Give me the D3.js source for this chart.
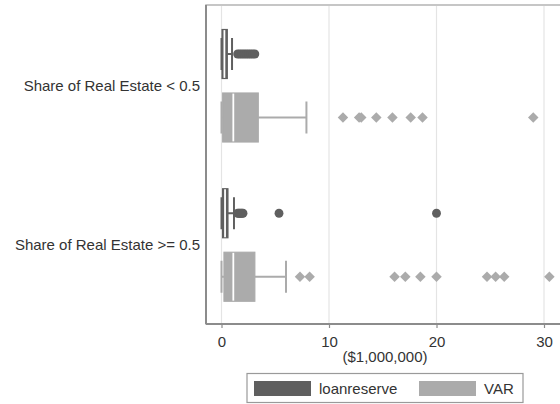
<!DOCTYPE html>
<html>
<head>
<meta charset="utf-8">
<script src="https://cdn.jsdelivr.net/npm/d3@7/dist/d3.min.js"></script>
<style>
  html, body { margin: 0; padding: 0; background: #fff; }
  svg { display: block; font-family: "Liberation Sans", Arial, sans-serif; }
</style>
</head>
<body>
<svg id="chart" width="560" height="404"></svg>
<script>
// Groups on the vertical axis and the two boxed variables
const groups = ["Share of Real Estate < 0.5", "Share of Real Estate >= 0.5"];
const seriesNames = ["loanreserve", "VAR"];

// Box summaries per group: [lower whisker, Q1, median, Q3, upper whisker] ($1,000,000)
const loanreserveBox = [
  [0, 0.05, 0.27, 0.54, 0.98],
  [0, 0.10, 0.33, 0.60, 1.16]
];
const varBox = [
  [0, 0.11, 1.10, 3.42, 7.90],
  [0, 0.23, 1.10, 3.10, 6.00]
];

// Outside values per group
const loanreserveOutliers = [
  [1.5, 1.7, 1.9, 2.1, 2.3, 2.5, 2.7, 2.9, 3.1],
  [1.5, 1.6, 1.7, 1.8, 1.9, 2.0, 5.35, 20.0]
];
const varOutliers = [
  [11.3, 12.8, 13.0, 14.4, 15.9, 17.6, 18.7, 29.0],
  [7.3, 8.2, 16.1, 17.1, 18.5, 20.0, 24.7, 25.5, 26.3, 30.5]
];

const xTicks = [0, 10, 20, 30];
const axisTitle = "($1,000,000)";

const colors = { loanreserve: "#5f5f5f", VAR: "#ababab" };

const svg = d3.select("#chart");
const plot = { left: 206, top: 5, bottom: 324, right: 575 };

const x = d3.scaleLinear().domain([0, 30]).range([221.5, 544]);
const yGroup = d3.scalePoint().domain(groups).range([85.75, 245]);
const ySeries = d3.scalePoint().domain(seriesNames).range([-31.75, 31.75]);
const boxH = 49, capH = 32;

// Plot region frame
svg.append("rect")
  .attr("x", plot.left).attr("y", plot.top)
  .attr("width", plot.right - plot.left).attr("height", plot.bottom - plot.top)
  .attr("fill", "#fff").attr("stroke", "#b4b4b4").attr("stroke-width", 1.5);

// Vertical gridlines
svg.append("g").selectAll("line").data(xTicks).join("line")
  .attr("x1", d => x(d)).attr("x2", d => x(d))
  .attr("y1", plot.top + 1).attr("y2", plot.bottom)
  .attr("stroke", "#e4e4e4").attr("stroke-width", 1.2);

// Left axis line
svg.append("line")
  .attr("x1", plot.left).attr("x2", plot.left)
  .attr("y1", plot.top).attr("y2", plot.bottom)
  .attr("stroke", "#8c8c8c").attr("stroke-width", 2);

// Bottom axis
const xAxis = d3.axisBottom(x).tickValues(xTicks).tickSize(4).tickPadding(8);
const gx = svg.append("g").attr("transform", `translate(0,${plot.bottom})`).call(xAxis);
gx.select(".domain").attr("d", `M${plot.left},0H${plot.right}`)
  .attr("stroke", "#8c8c8c").attr("stroke-width", 2);
gx.selectAll(".tick line").attr("stroke", "#8c8c8c").attr("stroke-width", 1.2);
gx.selectAll(".tick text").attr("font-size", 15).attr("fill", "#333")
  .attr("font-family", "Liberation Sans, Arial, sans-serif");

svg.append("text")
  .attr("x", 385).attr("y", 362)
  .attr("text-anchor", "middle").attr("font-size", 15).attr("fill", "#333")
  .text(axisTitle);

// Group labels
svg.append("g").selectAll("text").data(groups).join("text")
  .attr("x", 200).attr("y", d => yGroup(d))
  .attr("dy", "0.35em")
  .attr("text-anchor", "end").attr("font-size", 15).attr("fill", "#333")
  .text(d => d);

const seriesData = [
  { name: "loanreserve", boxes: loanreserveBox, outliers: loanreserveOutliers, marker: "circle" },
  { name: "VAR", boxes: varBox, outliers: varOutliers, marker: "diamond" }
];

const g = svg.append("g");
seriesData.forEach(s => {
  const col = colors[s.name];
  groups.forEach((grp, gi) => {
    const [lo, q1, med, q3, hi] = s.boxes[gi];
    const cy = yGroup(grp) + ySeries(s.name);
    // whiskers
    g.append("line").attr("x1", x(lo)).attr("x2", x(q1)).attr("y1", cy).attr("y2", cy)
      .attr("stroke", col).attr("stroke-width", 2);
    g.append("line").attr("x1", x(q3)).attr("x2", x(hi)).attr("y1", cy).attr("y2", cy)
      .attr("stroke", col).attr("stroke-width", 2);
    g.append("line").attr("x1", x(lo)).attr("x2", x(lo)).attr("y1", cy - capH / 2).attr("y2", cy + capH / 2)
      .attr("stroke", col).attr("stroke-width", 2);
    g.append("line").attr("x1", x(hi)).attr("x2", x(hi)).attr("y1", cy - capH / 2).attr("y2", cy + capH / 2)
      .attr("stroke", col).attr("stroke-width", 2);
    // box
    g.append("rect").attr("x", x(q1)).attr("y", cy - boxH / 2)
      .attr("width", x(q3) - x(q1)).attr("height", boxH)
      .attr("fill", col).attr("stroke", col).attr("stroke-width", 1.2);
    // median
    g.append("line").attr("x1", x(med)).attr("x2", x(med))
      .attr("y1", cy - boxH / 2 + 0.6).attr("y2", cy + boxH / 2 - 0.6)
      .attr("stroke", "#fff").attr("stroke-width", 1.8);
    // outside values
    const sym = d3.symbol()
      .type(s.marker === "circle" ? d3.symbolCircle : d3.symbolDiamond2)
      .size(s.marker === "circle" ? 62 : 70);
    g.append("g").selectAll("path").data(s.outliers[gi]).join("path")
      .attr("transform", d => `translate(${x(d)},${cy})`)
      .attr("d", sym)
      .attr("fill", col);
  });
});

// Legend
const legend = svg.append("g");
legend.append("rect").attr("x", 247).attr("y", 373.5).attr("width", 276).attr("height", 29)
  .attr("fill", "#fff").attr("stroke", "#9a9a9a").attr("stroke-width", 1.2);
const legendItems = [
  { name: seriesNames[0], sx: 254, tx: 319 },
  { name: seriesNames[1], sx: 419, tx: 484 }
];
legendItems.forEach(it => {
  legend.append("rect").attr("x", it.sx).attr("y", 381).attr("width", 57).attr("height", 15)
    .attr("fill", colors[it.name]);
  legend.append("text").attr("x", it.tx).attr("y", 393.5)
    .attr("font-size", 15).attr("fill", "#333").text(it.name);
});
</script>
</body>
</html>
